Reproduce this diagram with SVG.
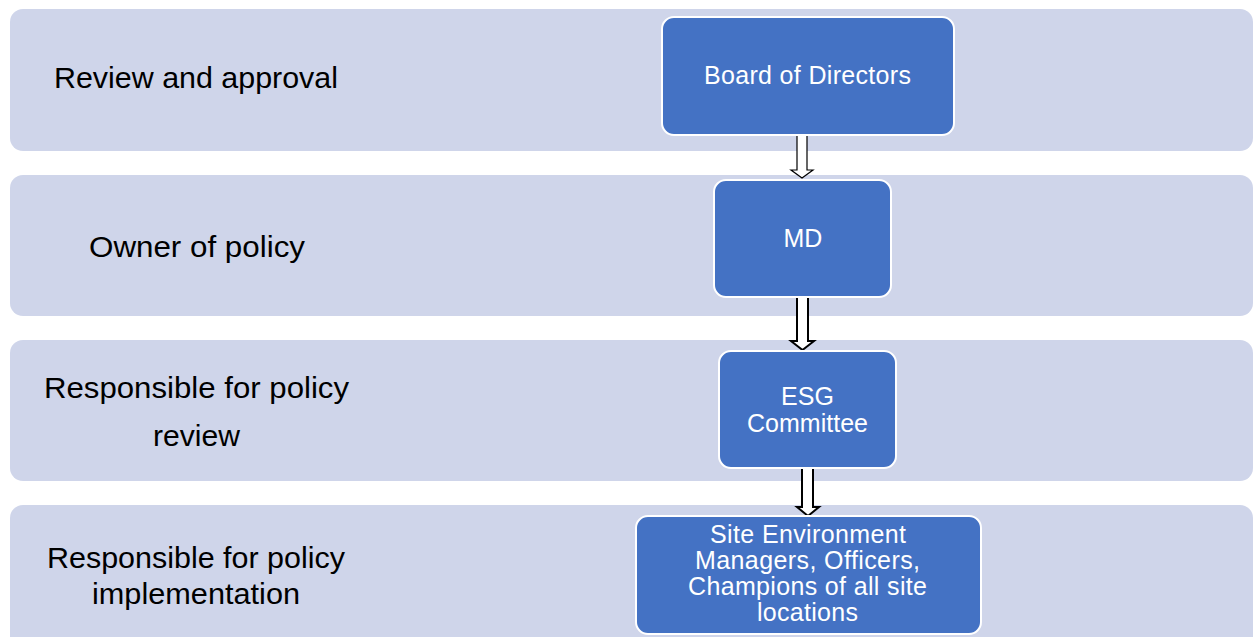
<svg xmlns="http://www.w3.org/2000/svg" width="1253" height="637" viewBox="0 0 1253 637">
<style>
.band{fill:#CFD5EA}
.node{fill:#4472C4;stroke:#FFFFFF;stroke-width:2}
.lbl{font-family:"Liberation Sans",Arial,sans-serif;font-size:29px;fill:#000000;text-anchor:middle}
.nt{font-family:"Liberation Sans",Arial,sans-serif;font-size:25px;fill:#FFFFFF;text-anchor:middle}
.arr{fill:#FFFFFF;stroke:#000000;stroke-linejoin:miter}
</style>
<rect width="1253" height="637" fill="#FFFFFF"/>
<g id="bands">
<rect class="band" x="10" y="9" width="1243" height="142" rx="13"/>
<rect class="band" x="10" y="175" width="1243" height="141" rx="13"/>
<rect class="band" x="10" y="340" width="1243" height="141" rx="13"/>
<rect class="band" x="10" y="505" width="1243" height="150" rx="13"/>
</g>
<g id="labels">
<text class="lbl" x="196" y="88" textLength="284" lengthAdjust="spacingAndGlyphs">Review and approval</text>
<text class="lbl" x="197" y="257" textLength="216" lengthAdjust="spacingAndGlyphs">Owner of policy</text>
<text class="lbl" x="196.5" y="398" textLength="305" lengthAdjust="spacingAndGlyphs">Responsible for policy</text>
<text class="lbl" x="196.5" y="446" textLength="87" lengthAdjust="spacingAndGlyphs">review</text>
<text class="lbl" x="196" y="568" textLength="298" lengthAdjust="spacingAndGlyphs">Responsible for policy</text>
<text class="lbl" x="196" y="604" textLength="208" lengthAdjust="spacingAndGlyphs">implementation</text>
</g>
<g id="connectors">
<path class="arr" stroke-width="1.2" d="M797,135 L807,135 L807,170 L813,170 L802,178 L791,170 L797,170 Z"/>
<path class="arr" stroke-width="2" d="M797,297 L808,297 L808,341 L814,341 L802.5,350 L791,341 L797,341 Z"/>
<path class="arr" stroke-width="2" d="M802,468 L813,468 L813,507 L819,507 L808,516 L797,507 L802,507 Z"/>
</g>
<g id="node-board">
<rect class="node" x="662" y="17" width="292" height="118" rx="12"/>
<text class="nt" x="807.5" y="84" textLength="207" lengthAdjust="spacing">Board of Directors</text>
</g>
<g id="node-md">
<rect class="node" x="714" y="180" width="177" height="117" rx="12"/>
<text class="nt" x="803" y="247">MD</text>
</g>
<g id="node-esg">
<rect class="node" x="719" y="351" width="177" height="117" rx="12"/>
<text class="nt" x="807.5" y="405">ESG</text>
<text class="nt" x="807.5" y="432" textLength="121" lengthAdjust="spacing">Committee</text>
</g>
<g id="node-site">
<rect class="node" x="636" y="516" width="345" height="118" rx="12"/>
<text class="nt" x="808" y="543" textLength="196" lengthAdjust="spacing">Site Environment</text>
<text class="nt" x="807.5" y="569" textLength="225" lengthAdjust="spacing">Managers, Officers,</text>
<text class="nt" x="807.5" y="595" textLength="239" lengthAdjust="spacing">Champions of all site</text>
<text class="nt" x="807.5" y="621" textLength="101" lengthAdjust="spacing">locations</text>
</g>
</svg>
